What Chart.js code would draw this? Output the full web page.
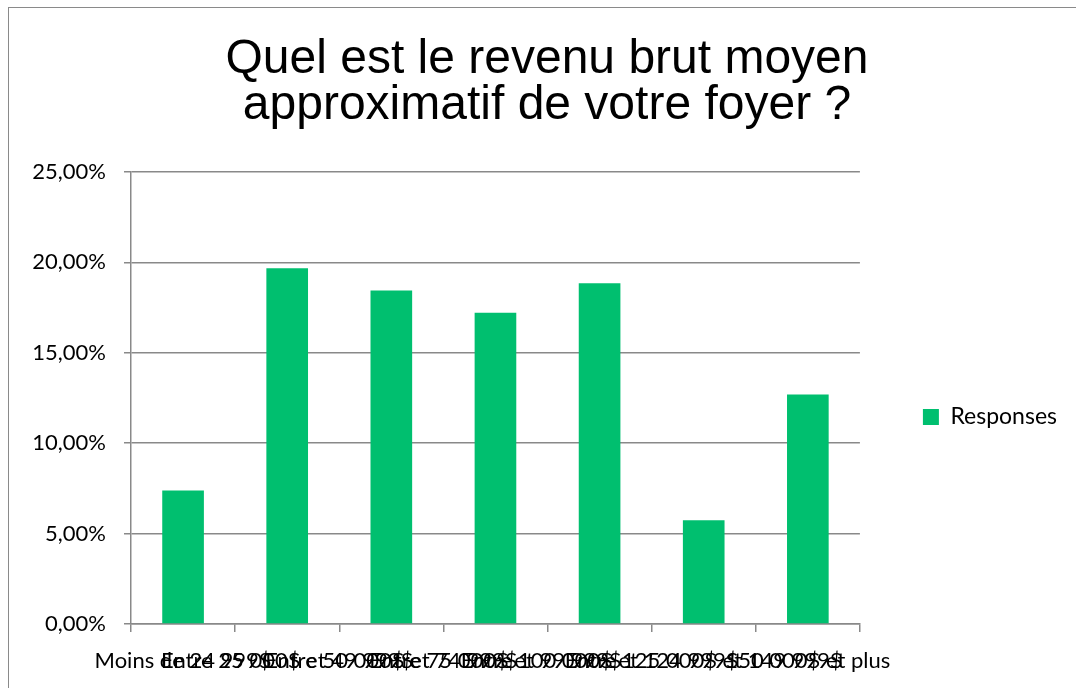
<!DOCTYPE html>
<html>
<head>
<meta charset="utf-8">
<script src="https://cdn.jsdelivr.net/npm/chart.js@4/dist/chart.umd.min.js"></script>
<style>
  body { margin: 0; background: #fff; }
  #wrap { position: relative; width: 1076px; height: 688px; overflow: hidden; }
  #cadre { position: absolute; left: 8px; top: 7px; width: 1100px; height: 700px;
           border-left: 1.5px solid #8a8a8a; border-top: 1.5px solid #8a8a8a; }
  #graph { position: absolute; left: 0; top: 0; }
</style>
</head>
<body>
<div id="wrap">
  <div id="cadre"></div>
  <canvas id="graph" width="1076" height="688"></canvas>
</div>
<script>
// --- DONNEES --- //
const categories = [
  "Moins de 24 999$",
  "Entre 25 000$ et 49 999$",
  "Entre 50 000$ et 74 999$",
  "Entre 75 000$ et 99 999$",
  "Entre 100 000$ et 124 999$",
  "Entre 125 000$ et 149 999$",
  "150 000$ et plus"
];
const responses = [7.38, 19.67, 18.44, 17.21, 18.85, 5.74, 12.70];
const yTicks = [0, 5, 10, 15, 20, 25];
const titre = ["Quel est le revenu brut moyen", "approximatif de votre foyer ?"];

const gris = "#898989";
const vert = "#00BF6F";
const policeAxe = "Lato, 'Open Sans', sans-serif";

// --- GRAPHIQUE --- //
new Chart(document.getElementById("graph"), {
  type: "bar",
  data: {
    labels: categories,
    datasets: [
      { label: "Responses", data: responses, backgroundColor: vert,
        barPercentage: 0.4, categoryPercentage: 1 }
    ]
  },
  options: {
    responsive: false,
    devicePixelRatio: 1,
    animation: false,
    layout: { padding: { left: 27, right: 9, top: 0, bottom: 0 } },
    plugins: {
      title: {
        display: true,
        text: titre,
        color: "#000",
        font: { family: "'Liberation Sans', Arial, sans-serif", size: 48, weight: "normal", lineHeight: "46px" },
        padding: { top: 37, bottom: 43 }
      },
      legend: {
        position: "right",
        fullSize: false,
        title: { display: true, text: "", padding: 10, font: { size: 18, lineHeight: 1 } },
        labels: {
          boxWidth: 16, boxHeight: 16, padding: 63,
          color: "#000",
          font: { family: policeAxe, size: 23 }
        }
      },
      tooltip: { enabled: false }
    },
    scales: {
      x: {
        offset: true,
        grid: { offset: true, drawOnChartArea: false, tickLength: 8, color: gris, lineWidth: 1.5 },
        border: { color: gris, width: 1.5 },
        ticks: {
          autoSkip: false, maxRotation: 0, minRotation: 0, padding: 16,
          color: "#000", font: { family: policeAxe, size: 22 }
        },
        afterFit: s => { s.height = 64; }
      },
      y: {
        min: 0, max: 25,
        afterBuildTicks: s => { s.ticks = yTicks.map(v => ({ value: v })); },
        grid: { color: gris, lineWidth: 1.5, tickLength: 7 },
        border: { color: gris, width: 1.5 },
        ticks: {
          padding: 18, color: "#000", font: { family: policeAxe, size: 22 },
          callback: v => v.toFixed(2).replace(".", ",") + "%"
        },
        afterFit: s => { s.width = 104; }
      }
    }
  }
});
</script>
</body>
</html>
